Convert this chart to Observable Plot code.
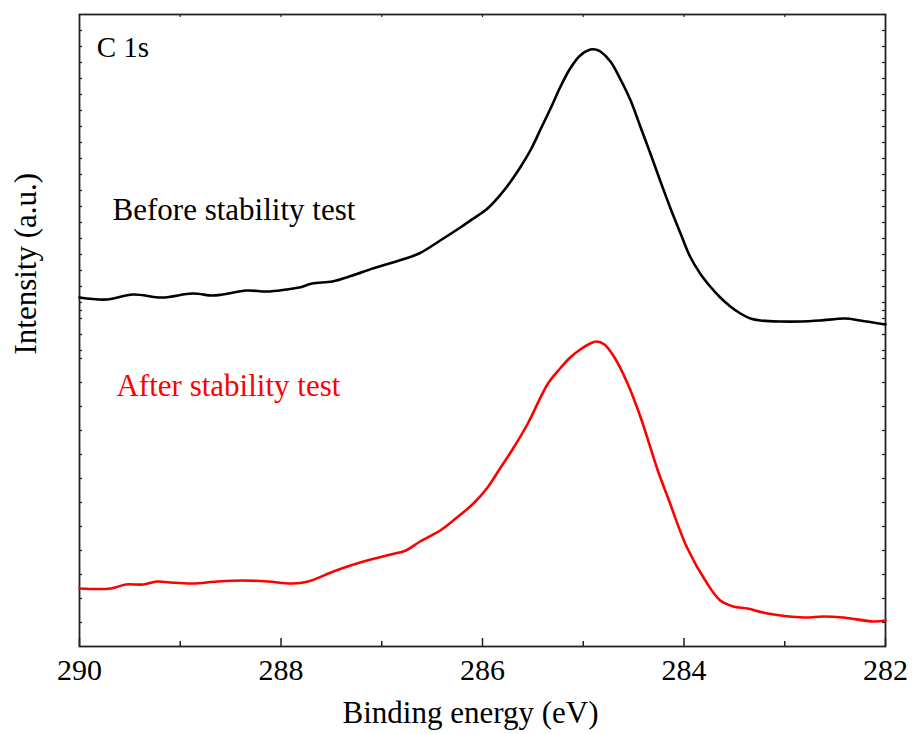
<!DOCTYPE html>
<html><head><meta charset="utf-8">
<script src="https://cdn.jsdelivr.net/npm/d3@7"></script>
<script src="https://cdn.jsdelivr.net/npm/@observablehq/plot@0.6"></script>
<style>body{margin:0;background:#fff}</style>
</head><body><div id="chart"></div>
<script>
// Binding energy (eV) and intensity (a.u.)
const beforeEnergy = [290.00,289.73,289.47,289.18,288.88,288.68,288.58,288.34,288.14,287.95,287.82,287.69,287.49,287.29,287.09,286.89,286.63,286.42,286.22,286.09,285.95,285.82,285.72,285.62,285.52,285.42,285.32,285.23,285.13,285.03,284.93,284.88,284.83,284.73,284.63,284.53,284.43,284.33,284.23,284.13,284.03,283.94,283.84,283.74,283.64,283.54,283.44,283.34,283.24,283.04,282.84,282.65,282.40,282.25,282.00];
const beforeIntensity = [349,347,352,349,353,351,352,356,355,357,359,363,365,371,378,384,393,406,419,428,438,452,465,480,497,518,539,559,578,591,597,597,595,585,567,546,519,492,464,437,412,390,373,360,349,340,333,328,326,325,325,326,328,326,322];
const afterEnergy = [290.00,289.69,289.54,289.37,289.23,289.10,288.88,288.63,288.38,288.13,287.89,287.73,287.48,287.31,287.11,286.91,286.76,286.62,286.42,286.29,286.09,285.95,285.82,285.69,285.55,285.35,285.23,285.13,285.03,284.93,284.87,284.79,284.69,284.56,284.43,284.26,284.16,283.97,283.77,283.64,283.51,283.37,283.17,282.81,282.62,282.42,282.12,282.00];
const afterIntensity = [58,58,62,62,65,64,63,65,66,65,63,65,75,81,87,92,96,105,116,126,143,159,179,199,223,263,278,289,297,303,305,302,289,263,229,176,149,99,63,46,40,38,33,29,30,29,25,26];

const xMajorTicks = [290,288,286,284,282];
const xMinorTicks = [289,287,285,283];
const yTicksUpper = d3.range(1,22).map(k => 632 - 16*k);   // upper layer ticks
const yTicksLower = d3.range(1,15).map(k => 24*k);         // lower layer ticks
const xLabel = "Binding energy (eV)";
const yLabel = "Intensity (a.u.)";
const panelLabel = ["C 1s"];
const seriesNames = ["Before stability test","After stability test"];
const seriesColors = ["#000000","#ff0000"];

const xDomain = [290,282];
const yDomain = [0,632];
const W = 912, H = 734, mL = 79, mR = 27, mT = 14, mB = 88;
const evPerPx = (xDomain[0]-xDomain[1])/(W-mL-mR);
const unitPerPx = (yDomain[1]-yDomain[0])/(H-mT-mB);

const before = beforeEnergy.map((e,i)=>({e, v: beforeIntensity[i]}));
const after = afterEnergy.map((e,i)=>({e, v: afterIntensity[i]}));

const serif = "'Liberation Serif','Times New Roman',Times,serif";
const yAll = yTicksUpper.concat(yTicksLower);

const chart = Plot.plot({
  width: W, height: H,
  marginLeft: mL, marginRight: mR, marginTop: mT, marginBottom: mB,
  style: {fontFamily: serif, background: "#fff", color: "#000"},
  x: {domain: xDomain, label: null},
  y: {domain: yDomain, label: null, axis: null},
  marks: [
    Plot.axisX(xMajorTicks, {tickSize: 0, tickPadding: 12, fontSize: 30, label: null, tickFormat: d => String(d)}),
    Plot.ruleX(xMajorTicks, {x: d => d, y1: yDomain[0], y2: yDomain[0] + 8*unitPerPx, stroke: "#222", strokeWidth: 1.5}),
    Plot.ruleX(xMinorTicks, {x: d => d, y1: yDomain[0], y2: yDomain[0] + 5*unitPerPx, stroke: "#222", strokeWidth: 1.5}),
    Plot.ruleX(xMajorTicks.concat(xMinorTicks), {x: d => d, y1: yDomain[1], y2: yDomain[1] - 3*unitPerPx, stroke: "#222", strokeWidth: 1.2}),
    Plot.ruleY(yAll, {y: d => d, x1: xDomain[0], x2: xDomain[0] - 3*evPerPx, stroke: "#222", strokeWidth: 1.2}),
    Plot.ruleY(yAll, {y: d => d, x1: xDomain[1], x2: xDomain[1] + 3*evPerPx, stroke: "#222", strokeWidth: 1.2}),
    Plot.frame({stroke: "#222", strokeWidth: 1.8}),
    Plot.line(before, {x: "e", y: "v", stroke: seriesColors[0], strokeWidth: 2.6, curve: "catmull-rom"}),
    Plot.line(after, {x: "e", y: "v", stroke: seriesColors[1], strokeWidth: 2.6, curve: "catmull-rom"}),
    Plot.text(panelLabel, {x: 289.83, y: 599, text: d => d, textAnchor: "start", lineAnchor: "middle", fontSize: 29, fill: "#000"}),
    Plot.text([seriesNames[0]], {x: 289.672, y: 436, text: d => d, textAnchor: "start", lineAnchor: "middle", fontSize: 31, fill: seriesColors[0]}),
    Plot.text([seriesNames[1]], {x: 289.633, y: 260, text: d => d, textAnchor: "start", lineAnchor: "middle", fontSize: 31, fill: seriesColors[1]}),
    Plot.text([xLabel], {frameAnchor: "bottom", text: d => d, dy: 67, dx: -12, lineAnchor: "middle", fontSize: 31, fill: "#000"}),
    Plot.text([yLabel], {frameAnchor: "left", text: d => d, dx: -53, dy: 24, rotate: -90, lineAnchor: "middle", fontSize: 31, fill: "#000"})
  ]
});
document.getElementById("chart").append(chart);
</script>
</body></html>
